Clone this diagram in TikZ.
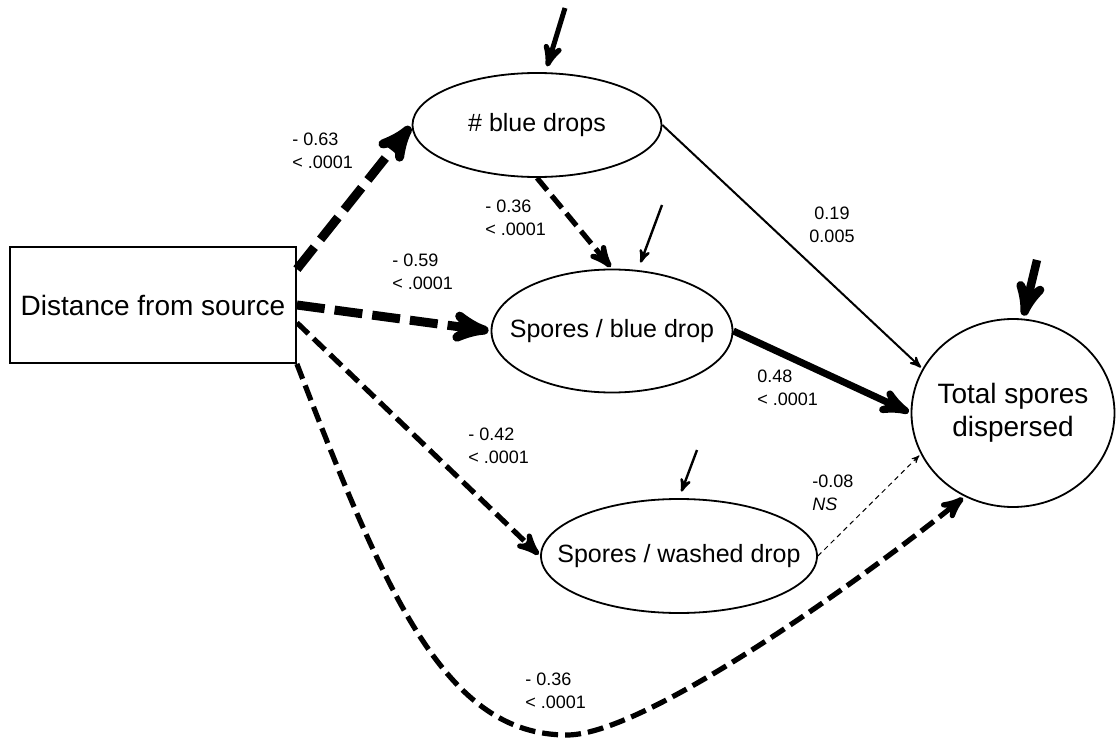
\documentclass[tikz,border=0pt]{standalone}
\usepackage{fontspec}
\setmainfont{Liberation Sans}
\usetikzlibrary{arrows,shapes.geometric}

\begin{document}
\begin{tikzpicture}[x=0.5pt,y=-0.5pt,>=stealth',shorten >=1pt,
        var/.style={ellipse,draw,line width=0.9pt,inner xsep=-20pt,inner ysep=0pt,
          font=\fontsize{12.5}{15}\selectfont},
        coef/.style={inner sep=0pt,align=left,anchor=north west,
          font=\fontsize{9}{11.5}\selectfont},
        heavy/.style={->,line width=4.5pt,dash pattern=on 14pt off 5pt},
        medium/.style={->,line width=2.6pt,dash pattern=on 8pt off 3.5pt},
        weak/.style={->,line width=1pt},
        strong/.style={->,line width=3.5pt},
        ns/.style={->,line width=0.5pt,dash pattern=on 2.5pt off 2pt},
        resid/.style={->,line width=#1,shorten >=3pt}]

  \useasboundingbox (0,0) rectangle (1116,739);

  \node[draw,line width=0.9pt,minimum width=143pt,minimum height=58pt,
        font=\fontsize{14}{16.5}\selectfont] (dist) at (153,305) {Distance from source};
  \node[var,minimum width=124.5pt,minimum height=52pt] (blue) at (537,125) {\# blue drops};
  \node[var,minimum width=120.5pt,minimum height=61.5pt] (sblue) at (612,331) {Spores / blue drop};
  \node[var,minimum width=138pt,minimum height=57pt] (washed) at (679,556) {Spores / washed drop};
  \node[var,minimum width=101.5pt,minimum height=94pt,align=center,
        font=\fontsize{14}{16.5}\selectfont] (total) at (1013,413) {Total spores\\dispersed};

  % paths
  \path (dist.14) edge[heavy] (blue.west)
        (dist.east) edge[heavy] (sblue.west)
        (blue.south) edge[medium] (sblue.north)
        (dist.-7) edge[medium] (washed.west)
        (blue.east) edge[weak] (total.154)
        (sblue.east) edge[strong] (total.west)
        (washed.east) edge[ns] (total.204);

  \coordinate (low) at (567,735);
  \draw[medium] (dist.south east) to[out=-69,in=180,out looseness=1.4,in looseness=0.67] (low)
        to[out=0,in=219,out looseness=0.44,in looseness=0.66] (total.240);

  % error terms
  \coordinate (u1) at (565,8);
  \coordinate (u2) at (662,205);
  \coordinate (u3) at (697,450);
  \coordinate (u4) at (1037,260);
  \draw[resid=2.5pt] (u1) -- (blue.81);
  \draw[resid=1.2pt,shorten >=4pt] (u2) -- (sblue.67);
  \draw[resid=1.2pt,shorten >=3.5pt] (u3) -- (washed.north);
  \draw[resid=4.2pt,shorten >=1.5pt] (u4) -- (total.84);

  % coefficients
  \node[coef] (k1) at (292,133) {- 0.63\\< .0001};
  \node[coef] (k2) at (485,200) {- 0.36\\< .0001};
  \node[coef] (k3) at (392,254) {- 0.59\\< .0001};
  \node[coef] (k4) at (468,428) {- 0.42\\< .0001};
  \node[coef] (k5) at (525,673) {- 0.36\\< .0001};
  \node[coef,align=center,anchor=north] (k6) at (832,207) {0.19\\0.005};
  \node[coef] (k7) at (757,370) {0.48\\< .0001};
  \node[coef] (k8) at (812,475) {-0.08\\\textit{NS}};

\end{tikzpicture}
\end{document}
